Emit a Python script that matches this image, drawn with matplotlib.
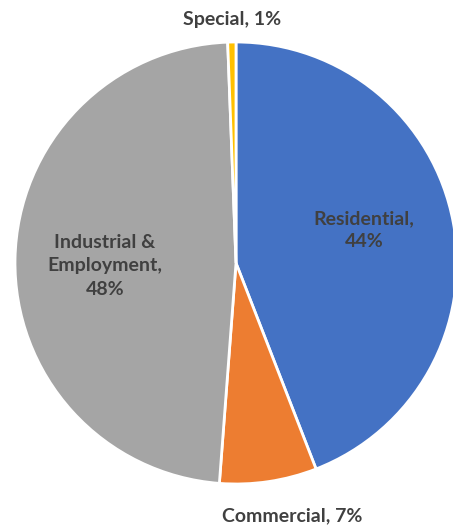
import matplotlib.pyplot as plt

# land use shares (percent)
categories = ["Residential", "Commercial", "Industrial &\nEmployment", "Special"]
shares = [44.1, 7.1, 48.2, 0.6]
colors = ["#4472C4", "#ED7D31", "#A5A5A5", "#FFC000"]

fig = plt.figure(figsize=(4.53, 5.27), dpi=100)
ax = fig.add_axes([0, 0, 1, 1])

ax.pie(shares, colors=colors, startangle=90, counterclock=False,
       center=(236, 264), radius=221, frame=True,
       wedgeprops=dict(edgecolor="white", linewidth=2))
ax.set_xlim(0, 453)
ax.set_ylim(0, 527)
ax.set_aspect("equal")
ax.axis("off")

txt = dict(fontfamily="Lato", fontweight="bold", fontsize=14, color="#404040",
           ha="center", va="center", linespacing=1.45)
label_pos = [(364, 297), (292, 11), (105, 261), (232, 508)]
for name, val, (x, y) in zip(categories, shares, label_pos):
    if name in ("Special", "Commercial"):
        s = f"{name}, {val:.0f}%"
    else:
        s = f"{name},\n{val:.0f}%"
    ax.text(x, y, s, **txt)

fig.savefig("out.png", dpi=100)
